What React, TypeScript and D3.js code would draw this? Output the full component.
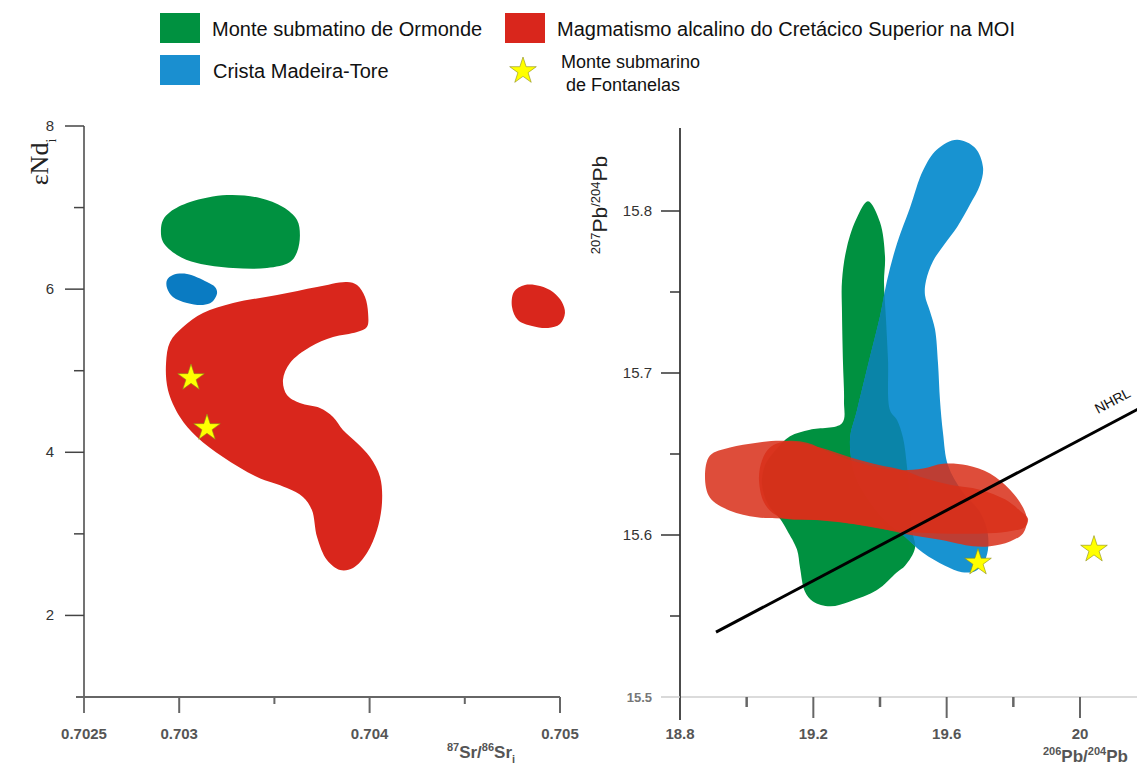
import React from 'react';
import * as d3 from 'd3';

type Pt = [number, number];

// ---- left panel: 87Sr/86Sr_i vs eNd_i ----
const srMajor = [0.7025, 0.703, 0.704, 0.705];
const srMajorLabels = ['0.7025', '0.703', '0.704', '0.705'];
const srMinor = [0.7035, 0.7045];
const ndMajor = [2, 4, 6, 8];
const ndMinor = [3, 5, 7];

const ormondeSrNd: Pt[] = [
	[0.702904, 6.725], [0.702915, 6.848], [0.702952, 6.946], [0.703057, 7.068],
	[0.703251, 7.154], [0.703424, 7.117], [0.703545, 7.007], [0.703619, 6.848],
	[0.703634, 6.664], [0.703619, 6.455], [0.703582, 6.333], [0.703461, 6.259],
	[0.703283, 6.259], [0.703093, 6.32], [0.702988, 6.419], [0.702915, 6.578],
];
const madeiraSrNd: Pt[] = [
	[0.702936, 6.112], [0.702967, 6.173], [0.703041, 6.186], [0.703146, 6.088],
	[0.703188, 6.026], [0.703199, 5.953], [0.703172, 5.842], [0.703125, 5.806],
	[0.703041, 5.83], [0.702967, 5.904], [0.702936, 6.014],
];
const cretaceousSrNd: Pt[] = [
	[0.702952, 5.352], [0.70302, 5.536], [0.703125, 5.707], [0.703283, 5.83],
	[0.703514, 5.928], [0.703724, 6.026], [0.703881, 6.088], [0.703934, 6.051],
	[0.703976, 5.904], [0.703992, 5.707], [0.703986, 5.536], [0.703934, 5.475],
	[0.703808, 5.413], [0.703687, 5.291], [0.703582, 5.095], [0.703545, 4.886],
	[0.703566, 4.702], [0.703634, 4.604], [0.703739, 4.543], [0.703808, 4.433],
	[0.70386, 4.273], [0.703934, 4.114], [0.704002, 3.942], [0.704055, 3.697],
	[0.704065, 3.378], [0.704039, 3.047], [0.703986, 2.765], [0.703913, 2.581],
	[0.703845, 2.557], [0.703776, 2.679], [0.703724, 2.961], [0.703697, 3.292],
	[0.70365, 3.452], [0.703566, 3.562], [0.703409, 3.697], [0.70323, 3.942],
	[0.703093, 4.187], [0.703004, 4.433], [0.702941, 4.764], [0.702931, 5.095],
];
const cretaceousSmallSrNd: Pt[] = [
	[0.704758, 5.965], [0.704816, 6.051], [0.704895, 6.039], [0.704963, 5.965],
	[0.70501, 5.842], [0.705026, 5.707], [0.705, 5.573], [0.704937, 5.524],
	[0.704853, 5.548], [0.704779, 5.622], [0.704748, 5.781],
];
const fontanelasSrNd: Pt[] = [[0.703062, 4.911], [0.703146, 4.298]];

// ---- right panel: 206Pb/204Pb vs 207Pb/204Pb ----
const pb206Major = [18.8, 19.2, 19.6, 20];
const pb206Labels = ['18.8', '19.2', '19.6', '20'];
const pb206Minor = [19.0, 19.4, 19.8];
const pb207Major = [15.5, 15.6, 15.7, 15.8];
const pb207Labels = ['15.5', '15.6', '15.7', '15.8'];
const pb207Minor = [15.55, 15.65, 15.75];

const ormondePb: Pt[] = [
	[19.364, 15.806], [19.4, 15.793], [19.415, 15.772], [19.412, 15.756],
	[19.418, 15.733], [19.424, 15.708], [19.43, 15.677], [19.451, 15.671],
	[19.469, 15.66], [19.481, 15.642], [19.49, 15.622], [19.496, 15.603],
	[19.505, 15.592], [19.475, 15.581], [19.451, 15.577], [19.391, 15.566],
	[19.31, 15.559], [19.25, 15.556], [19.199, 15.559], [19.175, 15.565],
	[19.16, 15.58], [19.151, 15.591], [19.121, 15.603], [19.1, 15.61],
	[19.064, 15.619], [19.046, 15.631], [19.055, 15.643], [19.085, 15.652],
	[19.13, 15.661], [19.19, 15.665], [19.286, 15.669], [19.292, 15.683],
	[19.289, 15.706], [19.286, 15.737], [19.286, 15.757], [19.301, 15.778],
	[19.331, 15.796],
];
const madeiraPb: Pt[] = [
	[19.631, 15.844], [19.685, 15.839], [19.709, 15.827], [19.7, 15.816],
	[19.67, 15.804], [19.631, 15.79], [19.595, 15.78], [19.559, 15.769],
	[19.538, 15.757], [19.535, 15.748], [19.55, 15.738], [19.565, 15.727],
	[19.574, 15.706], [19.58, 15.683], [19.589, 15.663], [19.604, 15.643],
	[19.646, 15.627], [19.7, 15.614], [19.724, 15.6], [19.718, 15.586],
	[19.688, 15.578], [19.646, 15.577], [19.595, 15.581], [19.529, 15.589],
	[19.469, 15.6], [19.415, 15.609], [19.364, 15.622], [19.325, 15.637],
	[19.31, 15.659], [19.331, 15.677], [19.37, 15.71], [19.4, 15.735],
	[19.421, 15.757], [19.451, 15.78], [19.49, 15.802], [19.529, 15.825],
	[19.571, 15.838],
];
const cretaceousPbA: Pt[] = [
	[18.875, 15.636], [18.89, 15.649], [18.95, 15.654], [19.031, 15.657],
	[19.121, 15.658], [19.22, 15.654], [19.31, 15.648], [19.4, 15.643],
	[19.469, 15.64], [19.535, 15.635], [19.61, 15.631], [19.7, 15.628],
	[19.775, 15.622], [19.82, 15.615], [19.844, 15.61], [19.835, 15.605],
	[19.781, 15.602], [19.709, 15.601], [19.58, 15.601], [19.43, 15.603],
	[19.28, 15.608], [19.13, 15.61], [19.031, 15.611], [18.95, 15.615],
	[18.89, 15.623],
];
const cretaceousPbB: Pt[] = [
	[19.037, 15.634], [19.046, 15.646], [19.07, 15.654], [19.121, 15.658],
	[19.181, 15.657], [19.25, 15.651], [19.331, 15.645], [19.409, 15.641],
	[19.469, 15.64], [19.529, 15.641], [19.589, 15.644], [19.661, 15.643],
	[19.73, 15.638], [19.79, 15.628], [19.829, 15.617], [19.841, 15.609],
	[19.829, 15.601], [19.79, 15.596], [19.73, 15.593], [19.679, 15.593],
	[19.58, 15.597], [19.469, 15.601], [19.379, 15.605], [19.229, 15.609],
	[19.1, 15.611], [19.055, 15.619],
];
const fontanelasPb: Pt[] = [[19.694, 15.583], [20.042, 15.591]];
const nhrl: Pt[] = [[18.908, 15.54], [20.25, 15.686]];

const FONT = 'Liberation Sans, Arial, sans-serif';
const GREEN = '#009140';
const RED = '#d9261c';
const BLUE_L = '#0a7bc2';
const BLUE_R = '#1893d1';

const xL = d3.scaleLinear().domain([0.7025, 0.705]).range([84, 560]);
const yL = d3.scaleLinear().domain([1, 8]).range([697, 126]);
const xR = d3.scaleLinear().domain([18.8, 20]).range([680, 1080]);
const yR = d3.scaleLinear().domain([15.5, 15.8]).range([697, 211]);

const blob = (xs: d3.ScaleLinear<number, number>, ys: d3.ScaleLinear<number, number>) =>
	d3.line<Pt>()
		.x((d) => xs(d[0]))
		.y((d) => ys(d[1]))
		.curve(d3.curveCatmullRomClosed.alpha(0.5));

const star = d3.symbol().type(d3.symbolStar).size(220)() as string;

const Star = ({ x, y }: { x: number; y: number }) => (
	<path d={star} transform={`translate(${x},${y})`} fill="#ffff00" stroke="#8c8c1a" strokeWidth={0.6} />
);

export default function App() {
	const bl = blob(xL, yL);
	const br = blob(xR, yR);
	const nhrlAngle = (Math.atan2(yR(nhrl[1][1]) - yR(nhrl[0][1]), xR(nhrl[1][0]) - xR(nhrl[0][0])) * 180) / Math.PI;

	return (
		<svg width={1137} height={767} style={{ position: 'absolute', left: 0, top: 0, background: '#fff' }} fontFamily={FONT}>
			{/* legend */}
			<g>
				<rect x={160} y={13} width={40} height={30} fill={GREEN} />
				<text x={212} y={36} fontSize={20} fill="#111">Monte submatino de Ormonde</text>
				<rect x={505} y={13} width={40} height={30} fill={RED} />
				<text x={557} y={36} fontSize={20} fill="#111">Magmatismo alcalino do Cretácico Superior na MOI</text>
				<rect x={160} y={55} width={40} height={30} fill="#1a8fd0" />
				<text x={213} y={78} fontSize={20} fill="#111">Crista Madeira-Tore</text>
				<Star x={523} y={71} />
				<text x={561} y={68} fontSize={18} fill="#111">Monte submarino</text>
				<text x={566} y={91} fontSize={18} fill="#111">de Fontanelas</text>
			</g>

			{/* left panel */}
			<g>
				<path d={bl(ormondeSrNd) as string} fill={GREEN} />
				<path d={bl(madeiraSrNd) as string} fill={BLUE_L} />
				<path d={bl(cretaceousSrNd) as string} fill={RED} />
				<path d={bl(cretaceousSmallSrNd) as string} fill={RED} />
				{fontanelasSrNd.map((d, i) => (
					<Star key={i} x={xL(d[0])} y={yL(d[1])} />
				))}

				<line x1={xL(0.7025)} x2={xL(0.7025)} y1={yL(8)} y2={yL(1) + 16} stroke="#444" strokeWidth={1.5} />
				<line x1={xL(0.7025) - 8} x2={xL(0.705)} y1={yL(1)} y2={yL(1)} stroke="#666" strokeWidth={2} />
				{ndMajor.map((v) => (
					<g key={v}>
						<line x1={xL(0.7025) - 19} x2={xL(0.7025)} y1={yL(v)} y2={yL(v)} stroke="#444" strokeWidth={1.5} />
						<text x={54} y={yL(v) + 5} fontSize={15} textAnchor="end" fill="#333">{v}</text>
					</g>
				))}
				{ndMinor.map((v) => (
					<line key={v} x1={xL(0.7025) - 10} x2={xL(0.7025)} y1={yL(v)} y2={yL(v)} stroke="#444" strokeWidth={1.5} />
				))}
				{srMajor.slice(1).map((v) => (
					<line key={v} x1={xL(v)} x2={xL(v)} y1={yL(1)} y2={yL(1) + 16} stroke="#666" strokeWidth={2} />
				))}
				{srMinor.map((v) => (
					<line key={v} x1={xL(v)} x2={xL(v)} y1={yL(1)} y2={yL(1) + 7} stroke="#666" strokeWidth={2} />
				))}
				{srMajor.map((v, i) => (
					<text key={v} x={xL(v)} y={739} fontSize={15} fontWeight="bold" textAnchor="middle" fill="#555">{srMajorLabels[i]}</text>
				))}
				<text x={481} y={758} fontSize={17} textAnchor="middle" fill="#555" fontWeight="bold">
					<tspan fontSize={11} dy={-7}>87</tspan>
					<tspan dy={7}>Sr/</tspan>
					<tspan fontSize={11} dy={-7}>86</tspan>
					<tspan dy={7}>Sr</tspan>
					<tspan fontSize={11} dy={5}>i</tspan>
				</text>
				<text transform="translate(48,162) rotate(-90)" textAnchor="middle" fontSize={26} fontFamily="Liberation Serif, Times New Roman, serif" fill="#222">
					εNd<tspan fontSize={14} dy={8}>i</tspan>
				</text>
			</g>

			{/* right panel */}
			<g>
				<defs>
					<clipPath id="madeiraClip">
						<path d={br(madeiraPb) as string} />
					</clipPath>
				</defs>
				<path d={br(ormondePb) as string} fill={GREEN} />
				<path d={br(madeiraPb) as string} fill={BLUE_R} />
				<path d={br(ormondePb) as string} fill="#0a84a8" clipPath="url(#madeiraClip)" />
				<path d={br(cretaceousPbA) as string} fill="#d9301a" fillOpacity={0.86} />
				<path d={br(cretaceousPbB) as string} fill="#d9301a" fillOpacity={0.86} />
				<line
					x1={xR(nhrl[0][0])} y1={yR(nhrl[0][1])}
					x2={xR(nhrl[1][0])} y2={yR(nhrl[1][1])}
					stroke="#000" strokeWidth={3}
				/>
				<text transform={`translate(1098,414) rotate(${nhrlAngle})`} fontSize={14} fill="#111">NHRL</text>
				{fontanelasPb.map((d, i) => (
					<Star key={i} x={xR(d[0])} y={yR(d[1])} />
				))}

				<line x1={xR(18.8)} x2={1137} y1={yR(15.5)} y2={yR(15.5)} stroke="#cfcfcf" strokeWidth={1.5} />
				<line x1={xR(18.8)} x2={xR(18.8)} y1={128} y2={720} stroke="#111" strokeWidth={1.5} />
				{pb207Major.map((v, i) => (
					<g key={v}>
						<line x1={xR(18.8) - 19} x2={xR(18.8)} y1={yR(v)} y2={yR(v)} stroke={i === 0 ? '#ccc' : '#333'} strokeWidth={1.5} />
						<text x={652} y={yR(v) + 5} fontSize={i === 0 ? 13 : 15} fontWeight={i === 0 ? 'bold' : 'normal'} textAnchor="end" fill={i === 0 ? '#777' : '#333'}>{pb207Labels[i]}</text>
					</g>
				))}
				{pb207Minor.map((v) => (
					<line key={v} x1={xR(18.8) - 10} x2={xR(18.8)} y1={yR(v)} y2={yR(v)} stroke="#333" strokeWidth={1.5} />
				))}
				{pb206Major.slice(1).map((v) => (
					<line key={v} x1={xR(v)} x2={xR(v)} y1={yR(15.5)} y2={yR(15.5) + 21} stroke="#666" strokeWidth={2} />
				))}
				{pb206Minor.map((v) => (
					<line key={v} x1={xR(v)} x2={xR(v)} y1={yR(15.5)} y2={yR(15.5) + 10} stroke="#666" strokeWidth={2.5} />
				))}
				{pb206Major.map((v, i) => (
					<text key={v} x={xR(v)} y={739} fontSize={15} fontWeight="bold" textAnchor="middle" fill="#555">{pb206Labels[i]}</text>
				))}
				<text x={1043} y={762} fontSize={17} fill="#555" fontWeight="bold">
					<tspan fontSize={11} dy={-7}>206</tspan>
					<tspan dy={7}>Pb/</tspan>
					<tspan fontSize={11} dy={-7}>204</tspan>
					<tspan dy={7}>Pb</tspan>
				</text>
				<text transform="translate(607,205) rotate(-90)" textAnchor="middle" fontSize={21} fill="#222">
					<tspan fontSize={13} dy={-7}>207</tspan>
					<tspan dy={7}>Pb</tspan>
					<tspan fontSize={13} dy={-7}>/204</tspan>
					<tspan dy={7}>Pb</tspan>
				</text>
			</g>
		</svg>
	);
}
